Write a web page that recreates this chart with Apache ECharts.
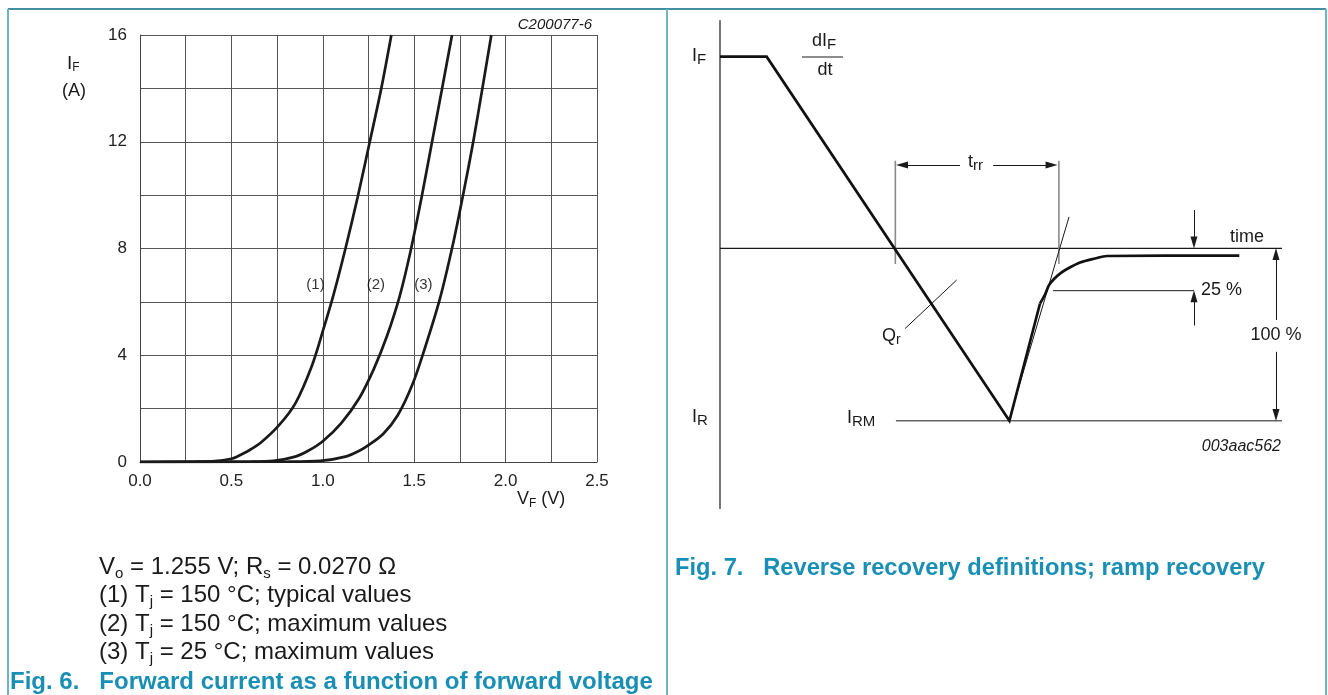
<!DOCTYPE html>
<html>
<head>
<meta charset="utf-8">
<title>Forward current / reverse recovery</title>
<script src="https://cdn.jsdelivr.net/npm/echarts@6/dist/echarts.min.js"></script>
<style>
    html, body { margin: 0; padding: 0; background: #fff; }
    #chart { width: 1328px; height: 695px; }
</style>
</head>
<body>
<div id="chart"></div>
<script>
    // ---- Fig. 6 : [forward voltage V, forward current A]
    const curve1 = [[0, 0], [0.30, 0.01], [0.41, 0.03], [0.50, 0.12], [0.53, 0.2], [0.60, 0.45], [0.665, 0.75],
        [0.757, 1.35], [0.85, 2.2], [0.94, 3.6], [1.0, 4.9], [1.06, 6.3], [1.124, 8.0], [1.19, 9.9],
        [1.257, 12.0], [1.32, 14.0], [1.375, 16]]
    const curve2 = [[0, 0], [0.60, 0.01], [0.73, 0.04], [0.85, 0.2], [0.92, 0.42], [1.0, 0.78], [1.10, 1.45],
        [1.20, 2.4], [1.28, 3.5], [1.35, 4.7], [1.42, 6.2], [1.48, 7.9], [1.54, 9.9], [1.595, 11.9],
        [1.65, 13.9], [1.707, 16]]
    const curve3 = [[0, 0], [0.80, 0.01], [0.986, 0.04], [1.124, 0.2], [1.20, 0.42], [1.25, 0.63], [1.33, 1.05],
        [1.41, 1.75], [1.49, 2.9], [1.56, 4.3], [1.64, 6.1], [1.71, 8.1], [1.77, 10.1], [1.823, 12.0],
        [1.873, 14.0], [1.922, 16]]
    const curveNames = ['(1)', '(2)', '(3)']
    const curveLabelV = [0.96, 1.29, 1.55]
    const curveLabelI = 6.65
    const xLabelValues = [0, 0.5, 1.0, 1.5, 2.0, 2.5]
    const yLabelValues = [0, 4, 8, 12, 16]

    // ---- Fig. 7 : [time (arbitrary 0..100), current relative to I_F]
    const timeAxis = [[0, 0], [100, 0]]
    const currentAxis = [[0, 1.19], [0, -1.36]]
    const rampDown = [[0, 1], [8.3, 1], [51.5, -0.9], [56.94, -0.288]]
    const recoveryTail = [[56.94, -0.288], [57.83, -0.241], [58.54, -0.192], [59.43, -0.16], [60.5, -0.132],
        [61.74, -0.108], [64.06, -0.074], [66.73, -0.053], [68.86, -0.04], [92.4, -0.038]]
    const tangentLine = [[51.4, -0.9], [62.1, 0.164]]
    const irmLevel = [[31.3, -0.9], [100, -0.9]]
    const trrTimes = [31.2, 60.3]
    const trrSpan = [0.457, -0.082]
    const qrPointer = [[32.92, -0.419], [42.12, -0.165]]
    const level25 = [[59.25, -0.221], [84.34, -0.221]]
    // arrows : [tail, head]
    const arrows = [
        [[42.7, 0.435], [32.4, 0.435]],
        [[48.6, 0.435], [59.0, 0.435]],
        [[84.34, 0.2], [84.34, 0.03]],
        [[84.34, -0.403], [84.34, -0.25]],
        [[98.93, -0.374], [98.93, -0.03]],
        [[98.93, -0.54], [98.93, -0.87]]
    ]

    const FONT = '"Liberation Sans", Arial, Helvetica, sans-serif'
    const INK = '#1a1a1a'
    const TEAL = '#1a8fb5'

    // text with subscripts, tokens written as {m|..}{s|..}
    function richText(x, y, text, size, subSize, pad, align, extra) {
        let base = {fontSize: size, fontFamily: FONT, fill: INK, verticalAlign: 'top'}
        return {
            type: 'text', x: x, y: y, silent: true,
            style: Object.assign({
                text: text,
                align: align || 'left', textAlign: align || 'left',
                verticalAlign: 'middle', textVerticalAlign: 'middle',
                fontSize: size, fontFamily: FONT, fill: INK,
                rich: {
                    m: base,
                    s: {fontSize: subSize, fontFamily: FONT, fill: INK, verticalAlign: 'top', padding: [pad, 0, 0, 0]}
                }
            }, extra || {})
        }
    }

    function plainText(x, y, text, size, align, extra) {
        return {
            type: 'text', x: x, y: y, silent: true,
            style: Object.assign({
                text: text,
                align: align || 'left', textAlign: align || 'left',
                verticalAlign: 'middle', textVerticalAlign: 'middle',
                fontSize: size, fontFamily: FONT, fill: INK
            }, extra || {})
        }
    }

    function frameLine(x1, y1, x2, y2, color) {
        return {type: 'line', silent: true, shape: {x1, y1, x2, y2}, style: {stroke: color, lineWidth: 2}}
    }

    // a path in the Fig. 7 coordinate system
    function path(data, width, color, smooth) {
        return {
            type: 'line', xAxisIndex: 1, yAxisIndex: 1, data: data,
            symbol: 'none', showSymbol: false, smooth: smooth || false, silent: true,
            lineStyle: {width: width, color: color, join: 'miter'}
        }
    }

    function curve(data) {
        return {
            type: 'line', xAxisIndex: 0, yAxisIndex: 0, data: data,
            symbol: 'none', showSymbol: false, smooth: 0.3, silent: true,
            lineStyle: {width: 2.7, color: INK}
        }
    }

    const isLabelled = (v, list) => list.some(l => Math.abs(l - v) < 1e-6)

    let chart = echarts.init(document.getElementById('chart'), null, {renderer: 'canvas'})

    let option = {
        animation: false,
        backgroundColor: '#fff',
        grid: [
            {left: 140, top: 35, width: 457, height: 427},
            {left: 720, top: 18.4, width: 562, height: 498.2}
        ],
        xAxis: [
            {
                gridIndex: 0, type: 'value', min: 0, max: 2.5, interval: 0.25,
                axisLine: {show: true, onZero: false, lineStyle: {color: '#444', width: 1}},
                axisTick: {show: false},
                splitLine: {show: true, lineStyle: {color: '#555', width: 1}},
                axisLabel: {
                    margin: 11, fontSize: 17, color: '#222', fontFamily: FONT,
                    formatter: v => isLabelled(v, xLabelValues) ? v.toFixed(1) : ''
                }
            },
            {gridIndex: 1, type: 'value', min: 0, max: 100, show: false}
        ],
        yAxis: [
            {
                gridIndex: 0, type: 'value', min: 0, max: 16, interval: 2,
                axisLine: {show: true, onZero: false, lineStyle: {color: '#444', width: 1}},
                axisTick: {show: false},
                splitLine: {show: true, lineStyle: {color: '#555', width: 1}},
                axisLabel: {
                    margin: 13, fontSize: 17, color: '#222', fontFamily: FONT,
                    formatter: v => isLabelled(v, yLabelValues) ? String(v) : ''
                }
            },
            {gridIndex: 1, type: 'value', min: -1.4, max: 1.2, show: false}
        ],
        series: [
            curve(curve1),
            curve(curve2),
            curve(curve3),
            {
                type: 'scatter', xAxisIndex: 0, yAxisIndex: 0, symbolSize: 0, silent: true,
                data: curveNames.map((n, i) => ({name: n, value: [curveLabelV[i], curveLabelI]})),
                label: {
                    show: true, position: 'inside', formatter: p => p.name,
                    fontSize: 15, color: '#000', fontFamily: FONT
                }
            },

            // Fig. 7
            Object.assign(path(timeAxis, 1.2, INK), {
                markLine: {
                    silent: true, symbol: ['none', 'triangle'], animation: false,
                    label: {show: false},
                    lineStyle: {type: 'solid', color: INK, width: 1},
                    data: arrows.map(a => [
                        {coord: a[0], symbol: 'none'},
                        {coord: a[1], symbol: 'triangle', symbolSize: [7, 12]}
                    ])
                }
            }),
            path(currentAxis, 1.2, INK),
            path(irmLevel, 1.5, '#666'),
            path([[trrTimes[0], trrSpan[0]], [trrTimes[0], trrSpan[1]]], 1.6, '#8a8a8a'),
            path([[trrTimes[1], trrSpan[0]], [trrTimes[1], trrSpan[1]]], 1.6, '#8a8a8a'),
            path(qrPointer, 1, INK),
            path(level25, 1, INK),
            path(tangentLine, 1, INK),
            path(rampDown, 2.7, '#111'),
            path(recoveryTail, 2.7, '#111', 0.3)
        ],
        graphic: [
            // panel frame
            frameLine(8, 9, 1326, 9, '#4290a2'),
            frameLine(8, 9, 8, 695, '#70b3c3'),
            frameLine(667, 9, 667, 695, '#70b3c3'),
            frameLine(1326, 9, 1326, 695, '#70b3c3'),

            // Fig. 6 texts
            plainText(592, 25, 'C200077-6', 15, 'right', {fontStyle: 'italic'}),
            richText(67, 64, '{m|I}{s|F}', 19, 12, 8, 'left'),
            plainText(74, 91, '(A)', 18, 'center'),
            richText(517, 500, '{m|V}{s|F}{m| (V)}', 18, 12, 7, 'left'),
            richText(99, 568, '{m|V}{s|o}{m| = 1.255 V; R}{s|s}{m| = 0.0270 Ω}', 24, 15, 11, 'left'),
            richText(99, 596, '{m|(1) T}{s|j}{m| = 150 °C; typical values}', 24, 15, 11, 'left'),
            richText(99, 625, '{m|(2) T}{s|j}{m| = 150 °C; maximum values}', 24, 15, 11, 'left'),
            richText(99, 653, '{m|(3) T}{s|j}{m| = 25 °C; maximum values}', 24, 15, 11, 'left'),
            plainText(10, 682, 'Fig. 6.   Forward current as a function of forward voltage', 24, 'left',
                {fontWeight: 'bold', fill: TEAL}),

            // Fig. 7 texts
            richText(692, 57, '{m|I}{s|F}', 18, 15, 5, 'left'),
            richText(812, 42, '{m|dI}{s|F}', 18, 15, 5, 'left'),
            {type: 'line', silent: true, shape: {x1: 802, y1: 57, x2: 843, y2: 57}, style: {stroke: INK, lineWidth: 1}},
            plainText(825, 70, 'dt', 18, 'center'),
            richText(968, 163, '{m|t}{s|rr}', 18, 15, 5, 'left'),
            plainText(1230, 237, 'time', 18, 'left'),
            plainText(1201, 290, '25 %', 18, 'left'),
            plainText(1276, 335, '100 %', 18, 'center'),
            richText(882, 337, '{m|Q}{s|r}', 18, 14, 6, 'left'),
            richText(692, 418, '{m|I}{s|R}', 18, 15, 5, 'left'),
            richText(847, 419, '{m|I}{s|RM}', 18, 15, 5, 'left'),
            plainText(1281, 447, '003aac562', 16, 'right', {fontStyle: 'italic'}),
            plainText(675, 568, 'Fig. 7.   Reverse recovery definitions; ramp recovery', 23.7, 'left',
                {fontWeight: 'bold', fill: TEAL})
        ]
    }

    chart.setOption(option)
</script>
</body>
</html>
